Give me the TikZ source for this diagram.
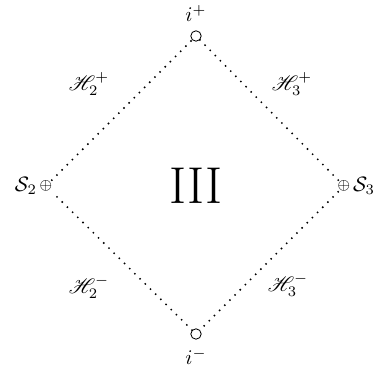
\documentclass[tikz,border=0pt]{standalone}
\usepackage{mathrsfs}

\begin{document}
\begin{tikzpicture}[
  x=0.48pt,y=-0.48pt,
  bdry/.style={line width=1pt,dash pattern=on 0pt off 3.5pt,line cap=round},
  infty/.style={circle,draw,inner sep=0pt,minimum size=5pt},
  bif/.style={inner sep=0pt}
]
  \useasboundingbox (0,0) rectangle (378,370);
  \node[infty] (ip) at (196,36) {};
  \node[infty] (im) at (196,334) {};
  \node[bif] (s2) at (46,186) {$\scriptstyle\oplus$};
  \node[bif] (s3) at (344,186) {$\scriptstyle\oplus$};
  \node[above=0.5pt] at (ip.north) {$i^+$};
  \node[below=0.5pt] at (im.south) {$i^-$};
  \node[left=-2.5pt] at (s2.west) {$\mathcal{S}_2$};
  \node[right=-2.5pt] at (s3.east) {$\mathcal{S}_3$};
  \node at (196,186) {\Huge III};
  \node at (89,84) {$\mathscr{H}_2^+$};
  \node at (292,84) {$\mathscr{H}_3^+$};
  \node at (89,287) {$\mathscr{H}_2^-$};
  \node at (288,285) {$\mathscr{H}_3^-$};
  \draw[bdry] (ip) -- (s3);
  \draw[bdry] (s3) -- (im);
  \draw[bdry] (im) -- (s2);
  \draw[bdry] (s2) -- (ip);
\end{tikzpicture}
\end{document}
